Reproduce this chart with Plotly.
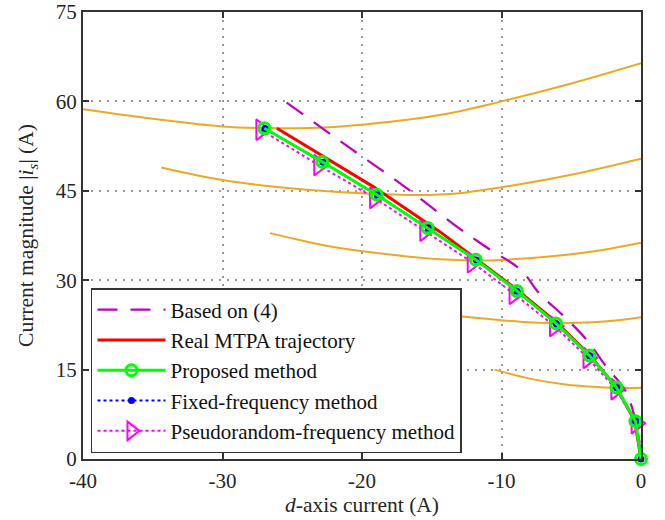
import plotly.graph_objects as go

# ---------------- data ----------------
# torque contours (orange)
c1_x = [-40, -35, -30, -26, -22, -18.7, -14, -10, -5, 0]
c1_y = [58.7, 57.1, 55.8, 55.5, 55.7, 56.4, 57.9, 60.0, 63.0, 66.4]
c2_x = [-34.4, -30, -25, -20, -16, -13, -10, -5, 0]
c2_y = [48.9, 46.8, 45.4, 44.6, 44.3, 44.6, 45.6, 47.7, 50.4]
c3_x = [-26.6, -24, -21.6, -18, -14.4, -12, -10, -6, -3, 0]
c3_y = [37.9, 36.5, 35.4, 34.3, 33.5, 33.3, 33.4, 34.1, 35.0, 36.3]
c4_x = [-19, -15, -11.5, -8.5, -6.3, -4, -2, 0]
c4_y = [25.8, 24.5, 23.6, 23.0, 22.8, 22.9, 23.2, 23.8]
c5_x = [-10.5, -7.8, -5.4, -3, -1.5, 0]
c5_y = [15.0, 13.4, 12.5, 12.05, 11.9, 11.95]

# Based on (4)
eq4_x = [-25.4, -21, -17, -13.5, -11.0, -8.6, -7.3, -5.5, -3.9, -2.5, -1.16, -0.4, 0]
eq4_y = [59.8, 52.4, 45.8, 39.5, 35.4, 31.7, 27.8, 23.9, 20.0, 15.5, 11.6, 6.5, 0]

# Real MTPA trajectory
mtpa_x = [-26.1, -22.5, -19.2, -14.4, -11.8, -9.0, -6.1, -3.7, -1.8, -0.45, 0]
mtpa_y = [55.5, 50.45, 45.7, 38.1, 33.6, 28.6, 23.0, 17.5, 12.1, 6.4, 0]

# Proposed method
prop_x = [-27.0, -22.85, -18.95, -15.3, -11.85, -8.9, -6.1, -3.7, -1.76, -0.4, 0]
prop_y = [55.5, 49.85, 44.35, 38.75, 33.45, 28.2, 22.75, 17.35, 12.0, 6.35, 0]

# Fixed-frequency method
fix_x = [-26.95, -22.8, -18.9, -15.25, -11.8, -8.88, -6.08, -3.68, -1.75, -0.38, 0]
fix_y = [55.45, 49.8, 44.3, 38.7, 33.4, 28.15, 22.7, 17.3, 11.95, 6.3, 0]

# Pseudorandom-frequency method
prn_x = [-27.25, -23.1, -19.1, -15.5, -12.1, -9.1, -6.2, -3.8, -1.8, -0.35, 0.15]
prn_y = [55.25, 49.3, 43.8, 38.3, 33.0, 27.7, 22.3, 16.95, 11.7, 6.0, 0]

x_ticks = [-40, -30, -20, -10, 0]
y_ticks = [0, 15, 30, 45, 60, 75]

FONT = "'Liberation Serif', 'Times New Roman', 'DejaVu Serif', serif"
ORANGE = "#EDA926"

fig = go.Figure()

for cx, cy in [(c1_x, c1_y), (c2_x, c2_y), (c3_x, c3_y), (c4_x, c4_y), (c5_x, c5_y)]:
    fig.add_trace(go.Scatter(x=cx, y=cy, mode="lines", line=dict(color=ORANGE, width=2, shape="spline"),
                             showlegend=False, hoverinfo="skip"))

fig.add_trace(go.Scatter(x=eq4_x, y=eq4_y, mode="lines", name="Based on (4)",
                         line=dict(color="#BF00BF", width=2.2, dash="20px,13px", shape="spline"),
                         legendrank=1))
fig.add_trace(go.Scatter(x=mtpa_x, y=mtpa_y, mode="lines", name="Real MTPA trajectory",
                         line=dict(color="#FF0000", width=3), legendrank=2))
fig.add_trace(go.Scatter(x=prn_x, y=prn_y, mode="lines+markers", name="Pseudorandom-frequency method",
                         line=dict(color="#FF00FF", width=2, dash="dot"),
                         marker=dict(symbol="triangle-right-open", size=18, color="#FF00FF",
                                     line=dict(width=2, color="#FF00FF")),
                         cliponaxis=False, legendrank=5))
fig.add_trace(go.Scatter(x=fix_x, y=fix_y, mode="lines+markers", name="Fixed-frequency method",
                         line=dict(color="#0000FF", width=2, dash="dot"),
                         marker=dict(symbol="circle", size=7, color="#0000FF"),
                         cliponaxis=False, legendrank=4))
fig.add_trace(go.Scatter(x=prop_x, y=prop_y, mode="lines+markers", name="Proposed method",
                         line=dict(color="#00FF00", width=3),
                         marker=dict(symbol="circle-open", size=11, color="#00FF00",
                                     line=dict(width=3, color="#00FF00")),
                         cliponaxis=False, legendrank=3))

axis_common = dict(
    showline=True, linecolor="#333333", linewidth=2, mirror="ticks",
    ticks="inside", ticklen=6, tickwidth=2, tickcolor="#333333",
    showgrid=True, gridcolor="#999999", gridwidth=2, griddash="2px,6px",
    zeroline=False, automargin=False,
    tickfont=dict(family=FONT, size=21, color="#262626"),
)

fig.update_xaxes(range=[-40, 0], tickvals=x_ticks, ticktext=[str(v) for v in x_ticks],
                 ticklabelstandoff=2,
                 title=dict(text="<i>d</i>-axis current (A)", font=dict(family=FONT, size=21.5, color="#262626"),
                            standoff=5),
                 **axis_common)
fig.update_yaxes(range=[0, 75], tickvals=y_ticks, ticktext=[str(v) for v in y_ticks],
                 title=dict(text="Current magnitude |<i>i</i><sub><i>s</i></sub>| (A)",
                            font=dict(family=FONT, size=21.5, color="#262626"), standoff=16),
                 **axis_common)

fig.update_layout(
    width=665, height=520,
    margin=dict(l=83, r=24, t=12, b=61),
    plot_bgcolor="white", paper_bgcolor="white",
    font=dict(family=FONT, size=21, color="#262626"),
    legend=dict(x=0.0143, y=0.0134, xanchor="left", yanchor="bottom",
                bgcolor="white", bordercolor="#333333", borderwidth=1.5,
                font=dict(family=FONT, size=21, color="#111111"),
                itemwidth=68, tracegroupgap=0),
)

fig.write_html("out.html")
